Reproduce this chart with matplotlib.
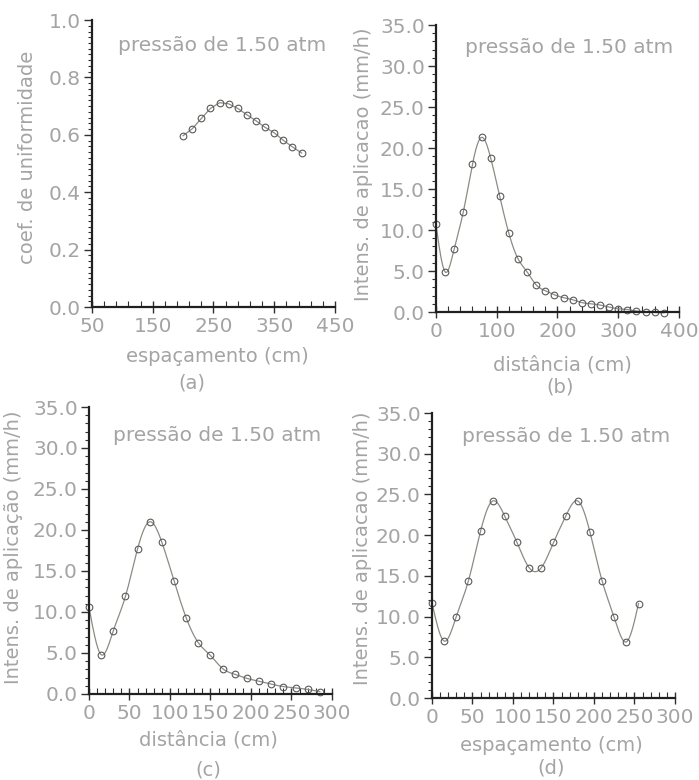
import matplotlib
matplotlib.use("Agg")
import matplotlib.pyplot as plt
import numpy as np
from matplotlib.ticker import MultipleLocator, FormatStrFormatter

# dados
# (a) coeficiente de uniformidade x espacamento
esp_a = [200, 215, 230, 245, 260, 275, 290, 305, 320, 335, 350, 365, 380, 395]
cu_a = [0.597, 0.621, 0.657, 0.692, 0.712, 0.708, 0.692, 0.670, 0.649,
        0.626, 0.607, 0.581, 0.558, 0.537]

# (b) intensidade de aplicacao x distancia (0 a 375 cm)
dist_b = [0, 15, 30, 45, 60, 75, 90, 105, 120, 135, 150, 165, 180, 195, 210,
          225, 240, 255, 270, 285, 300, 315, 330, 345, 360, 375]
int_b = [10.7, 4.9, 7.7, 12.2, 18.0, 21.3, 18.8, 14.1, 9.6, 6.5, 4.9, 3.3,
         2.6, 2.1, 1.75, 1.5, 1.15, 1.0, 0.85, 0.6, 0.4, 0.3, 0.12, 0.02,
         -0.05, -0.1]

# (c) intensidade de aplicacao x distancia (0 a 285 cm)
dist_c = [0, 15, 30, 45, 60, 75, 90, 105, 120, 135, 150, 165, 180, 195, 210,
          225, 240, 255, 270, 285]
int_c = [10.6, 4.8, 7.7, 11.9, 17.7, 21.0, 18.5, 13.8, 9.3, 6.25, 4.7, 3.1,
         2.4, 1.9, 1.55, 1.2, 0.9, 0.75, 0.55, 0.3]

# (d) intensidade de aplicacao x espacamento
esp_d = [0, 15, 30, 45, 60, 75, 90, 105, 120, 135, 150, 165, 180, 195, 210,
         225, 240, 255]
int_d = [11.7, 7.0, 10.0, 14.4, 20.5, 24.2, 22.3, 19.1, 16.0, 16.0, 19.1,
         22.3, 24.2, 20.4, 14.4, 9.9, 6.9, 11.6]

cinza = '#a4a4a4'
cor_linha = '#8c8c84'
cor_marca = '#5a5a5a'
plt.rcParams['font.family'] = ['DejaVu Sans']


def spline(x, y, n=400):
    # spline cubica natural so para desenhar a curva suave entre os pontos
    x = np.asarray(x, float)
    y = np.asarray(y, float)
    h = np.diff(x)
    m = len(x)
    A = np.zeros((m, m))
    b = np.zeros(m)
    A[0, 0] = A[-1, -1] = 1
    for i in range(1, m - 1):
        A[i, i - 1] = h[i - 1]
        A[i, i] = 2 * (h[i - 1] + h[i])
        A[i, i + 1] = h[i]
        b[i] = 6 * ((y[i + 1] - y[i]) / h[i] - (y[i] - y[i - 1]) / h[i - 1])
    M = np.linalg.solve(A, b)
    xs = np.linspace(x[0], x[-1], n)
    k = np.clip(np.searchsorted(x, xs) - 1, 0, m - 2)
    t0 = x[k + 1] - xs
    t1 = xs - x[k]
    hk = h[k]
    ys = (M[k] * t0 ** 3 + M[k + 1] * t1 ** 3) / (6 * hk) \
        + (y[k] / hk - M[k] * hk / 6) * t0 + (y[k + 1] / hk - M[k + 1] * hk / 6) * t1
    return xs, ys


def estilo(ax, xlim, xmaj, xmin, ylim, ymaj, ymin, yfmt, xoff=0):
    ax.set_xlim(*xlim)
    ax.set_ylim(*ylim)
    for s in ['top', 'right']:
        ax.spines[s].set_visible(False)
    for s in ['left', 'bottom']:
        ax.spines[s].set_linewidth(1.6)
        ax.spines[s].set_color('#202020')
    ax.xaxis.set_major_locator(MultipleLocator(xmaj, offset=xoff))
    ax.xaxis.set_minor_locator(MultipleLocator(xmin, offset=xoff % xmin))
    ax.yaxis.set_major_locator(MultipleLocator(ymaj))
    ax.yaxis.set_minor_locator(MultipleLocator(ymin))
    ax.yaxis.set_major_formatter(FormatStrFormatter(yfmt))
    ax.tick_params(axis='x', which='major', direction='inout', length=8, width=1,
                   color='#303030', labelsize=14.5, labelcolor=cinza, pad=3)
    ax.tick_params(axis='x', which='minor', direction='in', length=4, width=0.8,
                   color='#303030')
    ax.tick_params(axis='y', which='major', direction='out', length=6, width=1,
                   color='#303030', labelsize=14.5, labelcolor=cinza, pad=2)
    ax.tick_params(axis='y', which='minor', direction='out', length=3, width=0.8,
                   color='#303030')
    ax.patch.set_visible(False)


def textos(ax, ylab, ylx, yly, xlab, xlx, xly, letra, lx, ly, tx, ty):
    ax.text(ylx, yly, ylab, transform=ax.transAxes, rotation=90, ha='center',
            va='center', fontsize=14, color=cinza)
    ax.text(xlx, xly, xlab, transform=ax.transAxes, ha='center', va='center',
            fontsize=14, color=cinza)
    ax.text(lx, ly, letra, transform=ax.transAxes, ha='center', va='center',
            fontsize=14, color=cinza)
    ax.text(tx, ty, 'pressão de 1.50 atm', transform=ax.transAxes, ha='left',
            va='center', fontsize=14.5, color=cinza)


fig = plt.figure(figsize=(6.99, 7.8), dpi=100)

# (a)
ax = fig.add_axes([0.1316, 0.6064, 0.3476, 0.3679])
estilo(ax, (50, 450), 100, 20, (0, 1.0), 0.2, 0.02, '%.1f', xoff=50)
ax.plot(esp_a, cu_a, '-', color=cor_linha, lw=0.9, clip_on=False)
ax.plot(esp_a, cu_a, 'o', mfc='none', mec=cor_marca, ms=4.8, mew=0.8, clip_on=False)
textos(ax, 'coef. de uniformidade', -0.265, 0.52, 'espaçamento (cm)', 0.514, -0.174,
       '(a)', 0.41, -0.265, 0.107, 0.913)

# (b)
ax = fig.add_axes([0.6237, 0.6, 0.3476, 0.3679])
estilo(ax, (0, 400), 100, 20, (0, 35), 5, 1, '%.1f')
xs, ys = spline(dist_b, int_b)
ax.plot(xs, ys, '-', color=cor_linha, lw=0.9, clip_on=False)
ax.plot(dist_b, int_b, 'o', mfc='none', mec=cor_marca, ms=4.8, mew=0.8, clip_on=False)
textos(ax, 'Intens. de aplicacao (mm/h)', -0.30, 0.515, 'distância (cm)', 0.52, -0.185,
       '(b)', 0.51, -0.26, 0.12, 0.92)

# (c)
ax = fig.add_axes([0.1273, 0.1103, 0.3476, 0.3679])
estilo(ax, (0, 300), 50, 10, (0, 35), 5, 1, '%.1f')
xs, ys = spline(dist_c, int_c)
ax.plot(xs, ys, '-', color=cor_linha, lw=0.9, clip_on=False)
ax.plot(dist_c, int_c, 'o', mfc='none', mec=cor_marca, ms=4.8, mew=0.8, clip_on=False)
textos(ax, 'Intens. de aplicação (mm/h)', -0.31, 0.51, 'distância (cm)', 0.49, -0.16,
       '(c)', 0.49, -0.265, 0.099, 0.902)

# (d)
ax = fig.add_axes([0.618, 0.1051, 0.3476, 0.3654])
estilo(ax, (0, 300), 50, 10, (0, 35), 5, 1, '%.1f')
xs, ys = spline(esp_d, int_d)
ax.plot(xs, ys, '-', color=cor_linha, lw=0.9, clip_on=False)
ax.plot(esp_d, int_d, 'o', mfc='none', mec=cor_marca, ms=4.8, mew=0.8, clip_on=False)
textos(ax, 'Intens. de aplicacao (mm/h)', -0.285, 0.526, 'espaçamento (cm)', 0.49, -0.165,
       '(d)', 0.49, -0.245, 0.123, 0.916)

fig.savefig('out.png', dpi=100, facecolor='white')
